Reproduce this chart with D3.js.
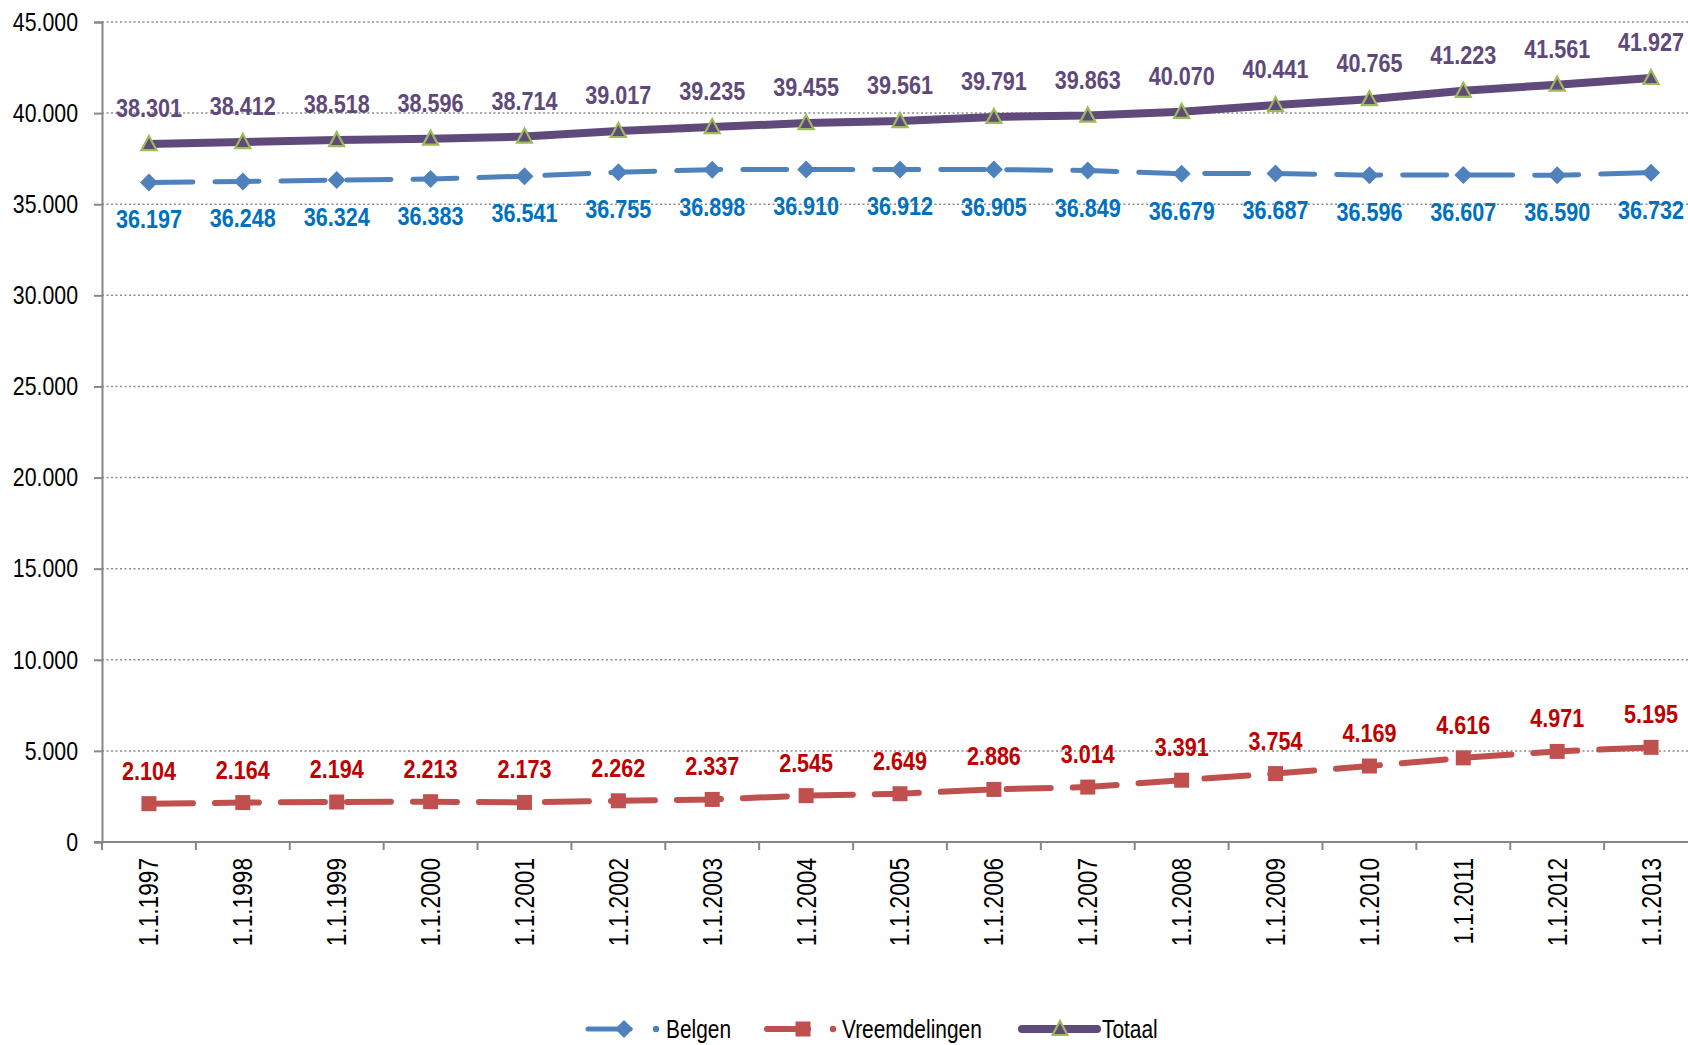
<!DOCTYPE html>
<html>
<head>
<meta charset="utf-8">
<script src="https://cdn.jsdelivr.net/npm/d3@7"></script>
<style>
  body { margin: 0; background: #fff; }
  svg { display: block; font-family: "Liberation Sans", Arial, sans-serif; }
</style>
</head>
<body>
<svg id="chart" width="1688" height="1045"></svg>
<script>
(function() {

const years = ['1.1.1997','1.1.1998','1.1.1999','1.1.2000','1.1.2001','1.1.2002','1.1.2003','1.1.2004',
    '1.1.2005','1.1.2006','1.1.2007','1.1.2008','1.1.2009','1.1.2010','1.1.2011','1.1.2012','1.1.2013'];
const belgen = [36197,36248,36324,36383,36541,36755,36898,36910,36912,36905,36849,36679,36687,36596,36607,36590,36732];
const vreemdelingen = [2104,2164,2194,2213,2173,2262,2337,2545,2649,2886,3014,3391,3754,4169,4616,4971,5195];
const totaal = [38301,38412,38518,38596,38714,39017,39235,39455,39561,39791,39863,40070,40441,40765,41223,41561,41927];
const yTicks = [0,5000,10000,15000,20000,25000,30000,35000,40000,45000];

const series = [
    { name: 'Belgen', values: belgen, line: '#4F81BD', label: '#0070C0', width: 5, dash: '44,22', marker: 'diamond', labelDy: 46 },
    { name: 'Vreemdelingen', values: vreemdelingen, line: '#C0504D', label: '#C00000', width: 6, dash: '44,22', marker: 'square', labelDy: -24 },
    { name: 'Totaal', values: totaal, line: '#604A7B', label: '#5F497A', width: 8, dash: null, marker: 'triangle', labelDy: -27 }
];

// no narrow font available: squeeze the regular one
const narrow = 0.82;
const fmt = d => d3.format(',')(d).replace(/,/g, '.');

const svg = d3.select('#chart');
const left = 102, top = 22, bottom = 842, right = 1698;

const x = d3.scaleBand().domain(years).range([left, right]);
const y = d3.scaleLinear().domain([0, 45000]).range([bottom, top]);
const cx = d => x(d) + x.bandwidth() / 2;

// gridlines
svg.append('g')
    .selectAll('line')
    .data(yTicks.filter(t => t > 0))
  .enter().append('line')
    .attr('x1', left).attr('x2', 1688)
    .attr('y1', d => y(d)).attr('y2', d => y(d))
    .attr('stroke', '#8c8c8c')
    .attr('stroke-width', 1.5)
    .attr('stroke-dasharray', '2,2.5');

// y axis
const yAxis = svg.append('g')
    .attr('transform', 'translate(' + left + ',0)')
    .call(d3.axisLeft(y).tickValues(yTicks).tickSize(8).tickPadding(16).tickFormat(fmt));
yAxis.select('.domain').attr('stroke', '#868686').attr('stroke-width', 2);
yAxis.selectAll('.tick line').attr('stroke', '#868686').attr('stroke-width', 2);
yAxis.selectAll('.tick text')
    .attr('font-size', 26)
    .attr('fill', '#000')
    .attr('font-family', null)
    .attr('x', -24 / narrow)
    .attr('transform', 'scale(' + narrow + ',1)');

// x axis
const xAxis = svg.append('g')
    .attr('transform', 'translate(0,' + bottom + ')');
xAxis.append('line')
    .attr('x1', left - 8).attr('x2', 1688)
    .attr('stroke', '#868686').attr('stroke-width', 2);
xAxis.selectAll('.xt')
    .data(years)
  .enter().append('line')
    .attr('class', 'xt')
    .attr('x1', d => x(d)).attr('x2', d => x(d))
    .attr('y1', 0).attr('y2', 8)
    .attr('stroke', '#868686').attr('stroke-width', 2);
xAxis.selectAll('text')
    .data(years)
  .enter().append('text')
    .attr('transform', d => 'translate(' + cx(d) + ',16) rotate(-90) scale(0.84,1)')
    .attr('text-anchor', 'end')
    .attr('dy', '0.35em')
    .attr('font-size', 27)
    .text(d => d);

// lines
const line = d3.line()
    .x((d, i) => cx(years[i]))
    .y(d => y(d));

series.forEach(s => {
    svg.append('path')
        .datum(s.values)
        .attr('fill', 'none')
        .attr('stroke', s.line)
        .attr('stroke-width', s.width)
        .attr('stroke-linecap', 'round')
        .attr('stroke-linejoin', 'round')
        .attr('stroke-dasharray', s.dash)
        .attr('d', line);
});

function drawMarker(g, type, color) {
    if (type === 'diamond') {
        g.append('path').attr('d', 'M0,-9L9,0L0,9L-9,0Z').attr('fill', color);
    } else if (type === 'square') {
        g.append('rect').attr('x', -7.5).attr('y', -7.5).attr('width', 15).attr('height', 15).attr('fill', color);
    } else {
        g.append('path').attr('d', 'M0,-8L7.5,6L-7.5,6Z')
            .attr('fill', '#604A7B').attr('stroke', '#9BBB59').attr('stroke-width', 2.2)
            .attr('stroke-linejoin', 'miter');
    }
}

series.forEach(s => {
    s.values.forEach((v, i) => {
        const g = svg.append('g').attr('transform', 'translate(' + cx(years[i]) + ',' + y(v) + ')');
        drawMarker(g, s.marker, s.line);
    });
    svg.append('g')
        .selectAll('text')
        .data(s.values)
      .enter().append('text')
        .attr('transform', (d, i) => 'translate(' + cx(years[i]) + ',' + (y(d) + s.labelDy) + ') scale(0.83,1)')
        .attr('text-anchor', 'middle')
        .attr('font-size', 26)
        .attr('font-weight', 'bold')
        .attr('fill', s.label)
        .text(fmt);
});

// legend
const legendItems = [
    { s: series[0], x0: 588, x1: 630, mx: 624, dot: 656, tx: 666 },
    { s: series[1], x0: 767, x1: 808, mx: 803, dot: 833, tx: 842 },
    { s: series[2], x0: 1022, x1: 1097, mx: 1060, dot: null, tx: 1102 }
];
const legend = svg.append('g').attr('transform', 'translate(0,1029)');
legendItems.forEach(it => {
    legend.append('line')
        .attr('x1', it.x0).attr('x2', it.x1)
        .attr('stroke', it.s.line).attr('stroke-width', it.s.width)
        .attr('stroke-linecap', 'round');
    if (it.dot) {
        legend.append('circle').attr('cx', it.dot).attr('cy', 0).attr('r', 3.2).attr('fill', it.s.line);
    }
    drawMarker(legend.append('g').attr('transform', 'translate(' + it.mx + ',0)'), it.s.marker, it.s.line);
    legend.append('text')
        .attr('transform', 'translate(' + it.tx + ',9) scale(' + narrow + ',1)')
        .attr('font-size', 25.5)
        .text(it.s.name);
});

})();
</script>
</body>
</html>
